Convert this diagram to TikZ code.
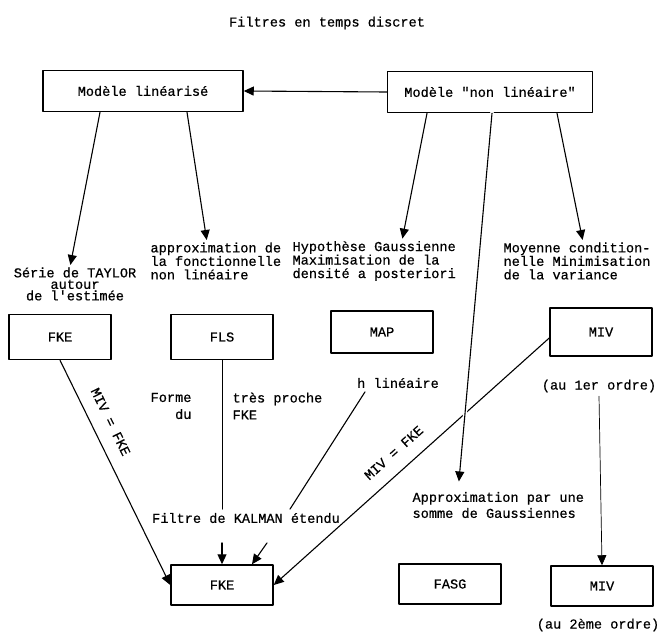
\documentclass[tikz,border=0pt]{standalone}
\usepackage{fontspec}
\setmainfont{Liberation Mono}[FakeBold=0.6]
\usetikzlibrary{arrows.meta}

\tikzset{
  filtre/.style={draw, line width=1.5pt, minimum width=102pt, minimum height=45pt, inner sep=2pt},
  modele/.style={draw, line width=1.5pt, minimum height=41pt, inner sep=6pt},
  note/.style={inner sep=0pt, align=left},
}

\begin{document}
\begin{tikzpicture}[x=1pt, y=-1pt, font=\fontsize{13.6}{13.5}\selectfont, line join=round, line cap=round, line width=1.1pt, >={Triangle[length=10pt,width=9pt]}]
\useasboundingbox (0,0) rectangle (660,640);
% titre et modeles
\node (titre) at (327,23) {Filtres en temps discret};
\node[modele, minimum width=200pt] (lin) at (143,91) {Modèle linéarisé};
\node[modele, minimum width=205pt] (nonlin) at (490,92) {Modèle \textquotedbl non linéaire\textquotedbl};
% hypotheses
\node[note, align=center, font=\fontsize{13.6}{11.5}\selectfont] (taylor) at (75,284) {Série de TAYLOR\\autour\\de l\textquotesingle estimée};
\node[note, anchor=west] (fonct) at (150,261) {approximation de\\la fonctionnelle\\non linéaire};
\node[note, anchor=west] (hyp) at (292,261) {Hypothèse Gaussienne\\Maximisation de la\\densité a posteriori};
\node[note, anchor=west] (moy) at (503,261) {Moyenne condition-\\nelle Minimisation\\de la variance};
% filtres
\node[filtre] (fkeA) at (60,337) {FKE};
\node[filtre] (fls) at (222,337) {FLS};
\node[filtre, minimum height=42pt] (map) at (382,332) {MAP};
\node[filtre, minimum height=48pt] (mivA) at (601,332) {MIV};
\node (hlin) at (398,383) {h linéaire};
\node (ordre1) at (599,386) {(au 1er ordre)};
\node[note, anchor=east, align=right] (forme) at (192,406) {Forme\\[3.5pt]du};
\node[note, anchor=west] (proche) at (232,406) {très proche\\[3.5pt]FKE};
\node (kalman) at (246,518) {Filtre de KALMAN étendu};
\node[note, anchor=west] (somme) at (412,505) {Approximation par une\\[2.5pt]somme de Gaussiennes};
\node[filtre, minimum height=40pt] (fkeB) at (222,585) {FKE};
\node[filtre, minimum height=40pt] (fasg) at (450,584) {FASG};
\node[filtre, minimum height=40pt] (mivB) at (602,586) {MIV};
\node (ordre2) at (598,625) {(au 2ème ordre)};
% liaisons
\draw[->] (nonlin.west) -- (lin.east);
\draw[->, shorten >=2pt] ([xshift=-43pt]lin.south) -- ([xshift=-5pt]taylor.north);
\draw[->, shorten >=2pt] ([xshift=44pt]lin.south) -- ([xshift=57pt]fonct.north west);
\draw[->, shorten >=2pt] ([xshift=-63pt]nonlin.south) -- ([xshift=110pt]hyp.north west);
\draw[->, shorten >=2pt] ([xshift=67pt]nonlin.south) -- ([xshift=80pt]moy.north west);
\draw[->] (fkeA.south) -- node[sloped, above=10pt, pos=0.31] {MIV = FKE} (fkeB.west);
\draw[line width=0.8pt] (fls.south) -- (fls.south |- kalman.north);
\draw[->] ([yshift=-16pt]kalman.south -| fkeB.north) -- (fkeB.north);
\draw ([xshift=-33pt]hlin.south) -- ([xshift=44pt]kalman.north);
\draw[->] ([xshift=21pt,yshift=-16pt]kalman.south) -- ([xshift=30pt]fkeB.north);
\draw[->] ([yshift=-6pt]mivA.west) -- node[sloped, above=10pt, pos=0.52] {MIV = FKE} (fkeB.east);
\draw[->, shorten >=10pt, preaction={draw=white, line width=4pt, -}] ([xshift=2pt]nonlin.south) -- ([xshift=46pt]somme.north west);
\draw[->, line width=0.7pt] (ordre1.south) -- (mivB.north);
\end{tikzpicture}
\end{document}
